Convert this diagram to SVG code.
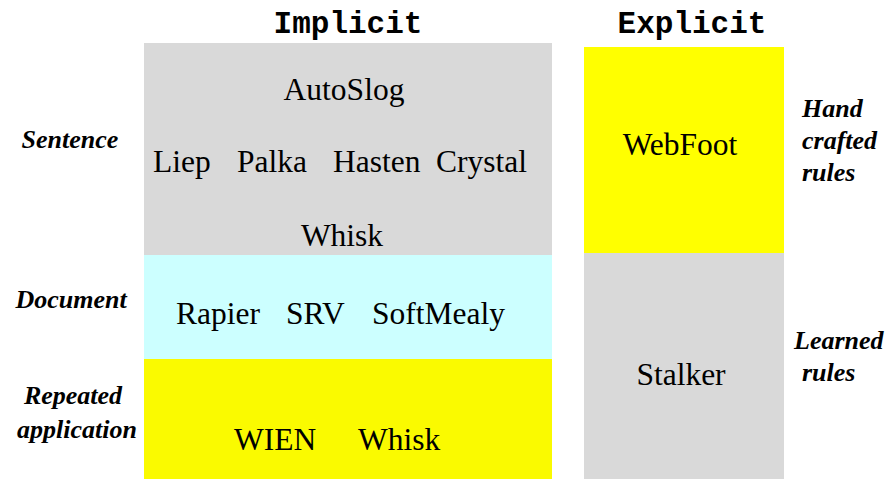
<svg xmlns="http://www.w3.org/2000/svg" width="890" height="479" viewBox="0 0 890 479">
<style>
.t{font-family:"Liberation Serif","Times New Roman",serif;font-size:31.5px;fill:#000}
.h{font-family:"Liberation Mono","Courier New",monospace;font-size:31px;font-weight:bold;fill:#000;text-anchor:middle}
.l{font-family:"Liberation Serif","Times New Roman",serif;font-size:26px;font-weight:bold;font-style:italic;fill:#000}
.c{text-anchor:middle}
</style>
<rect width="890" height="479" fill="#fff"/>
<g id="headers">
<text class="h" x="348" y="33">Implicit</text>
<text class="h" x="692" y="33">Explicit</text>
</g>
<g id="row-labels">
<text class="l c" x="70" y="148">Sentence</text>
<text class="l c" x="71" y="308">Document</text>
<text class="l c" x="73" y="404">Repeated</text>
<text class="l c" x="77" y="438">application</text>
</g>
<g id="col-labels">
<text class="l" x="802" y="117">Hand</text>
<text class="l" x="802" y="149">crafted</text>
<text class="l" x="802" y="181">rules</text>
<text class="l" x="794" y="349">Learned</text>
<text class="l" x="802" y="381">rules</text>
</g>
<g id="sentence">
<rect x="144" y="43" width="408" height="212" fill="#d9d9d9"/>
<text class="t c" x="344" y="100">AutoSlog</text>
<text class="t" x="153" y="172">Liep</text>
<text class="t" x="237" y="172">Palka</text>
<text class="t" x="333" y="172">Hasten</text>
<text class="t" x="436" y="172">Crystal</text>
<text class="t c" x="342" y="246">Whisk</text>
</g>
<g id="document">
<rect x="144" y="255" width="408" height="104" fill="#ccffff"/>
<text class="t" x="176" y="324">Rapier</text>
<text class="t" x="286" y="324">SRV</text>
<text class="t" x="372" y="324">SoftMealy</text>
</g>
<g id="repeated">
<rect x="144" y="359" width="408" height="120" fill="#fafa00"/>
<text class="t" x="234" y="450">WIEN</text>
<text class="t" x="358" y="450">Whisk</text>
</g>
<g id="handcrafted">
<rect x="584" y="47" width="200" height="206" fill="#ffff00"/>
<text class="t c" x="680" y="155">WebFoot</text>
</g>
<g id="learned">
<rect x="584" y="253" width="200" height="226" fill="#d9d9d9"/>
<text class="t c" x="681" y="385">Stalker</text>
</g>
<g id="connectors"></g>
</svg>
